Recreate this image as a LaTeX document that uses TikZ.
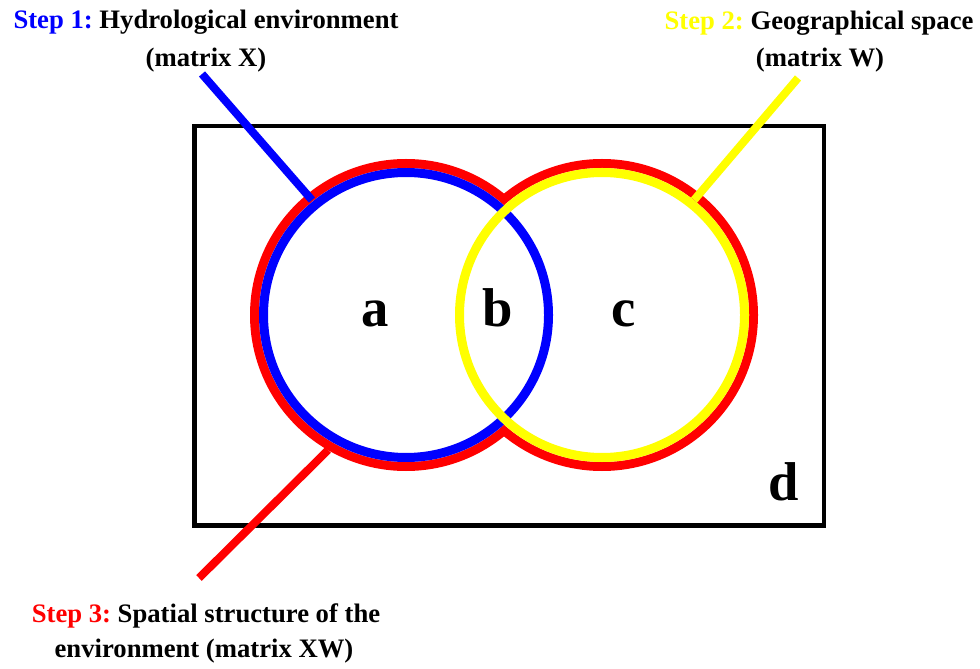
\documentclass[tikz,border=0pt]{standalone}
\usepackage{fontspec}
\setmainfont{Liberation Serif}
\definecolor{stepblue}{RGB}{0,0,255}
\definecolor{stepyellow}{RGB}{255,255,0}
\definecolor{stepred}{RGB}{255,0,0}
\tikzset{
  steptext/.style={anchor=base, inner sep=0pt, font=\fontsize{20}{24}\selectfont\bfseries\frenchspacing},
  region/.style={anchor=base, inner sep=0pt, font=\fontsize{41}{45}\selectfont\bfseries},
  ring/.style={line width=6.75pt},
  pointer/.style={line width=6pt},
}
\begin{document}
\begin{tikzpicture}[x=0.75pt,y=0.75pt]
\useasboundingbox (0,0) rectangle (980,668);
\coordinate (cx) at (406,353);
\coordinate (cw) at (602,353);
% study area
\draw[line width=3.4pt] (194.5,542) rectangle (824,142.5);
% outline of XW
\fill[stepred] (cx) circle (156) (cw) circle (156);
\fill[white] (cx) circle (147) (cw) circle (147);
\draw[ring, stepblue] (cx) circle (142.5);
\draw[ring, stepyellow] (cw) circle (142.5);
% regions
\node[region] (a) at (375,341) {a};
\node[region] (b) at (498,341) {b};
\node[region] (c) at (624,341) {c};
\node[region] (d) at (784,168) {d};
% steps
\node[steptext] (s1) at (206,639) {\textcolor{stepblue}{Step 1:} Hydrological environment};
\node[steptext] (s1m) at (206,601) {(matrix X)};
\node[steptext] (s2) at (819,638) {\textcolor{stepyellow}{Step 2:} Geographical space};
\node[steptext] (s2m) at (820,601) {(matrix W)};
\node[steptext] (s3) at (206,46) {\textcolor{stepred}{Step 3:} Spatial structure of the};
\node[steptext] (s3m) at (204,11) {environment (matrix XW)};
\coordinate (s1end) at (202,594);
\coordinate (s2end) at (798,590);
\coordinate (s3end) at (199,90);
\draw[pointer, stepblue] (s1end) -- ([shift={(129.3:148.5)}]cx);
\draw[pointer, stepyellow] (s2end) -- ([shift={(51.3:147.3)}]cw);
\draw[pointer, stepred] (s3end) -- ([shift={(240:155.9)}]cx);
\end{tikzpicture}
\end{document}
